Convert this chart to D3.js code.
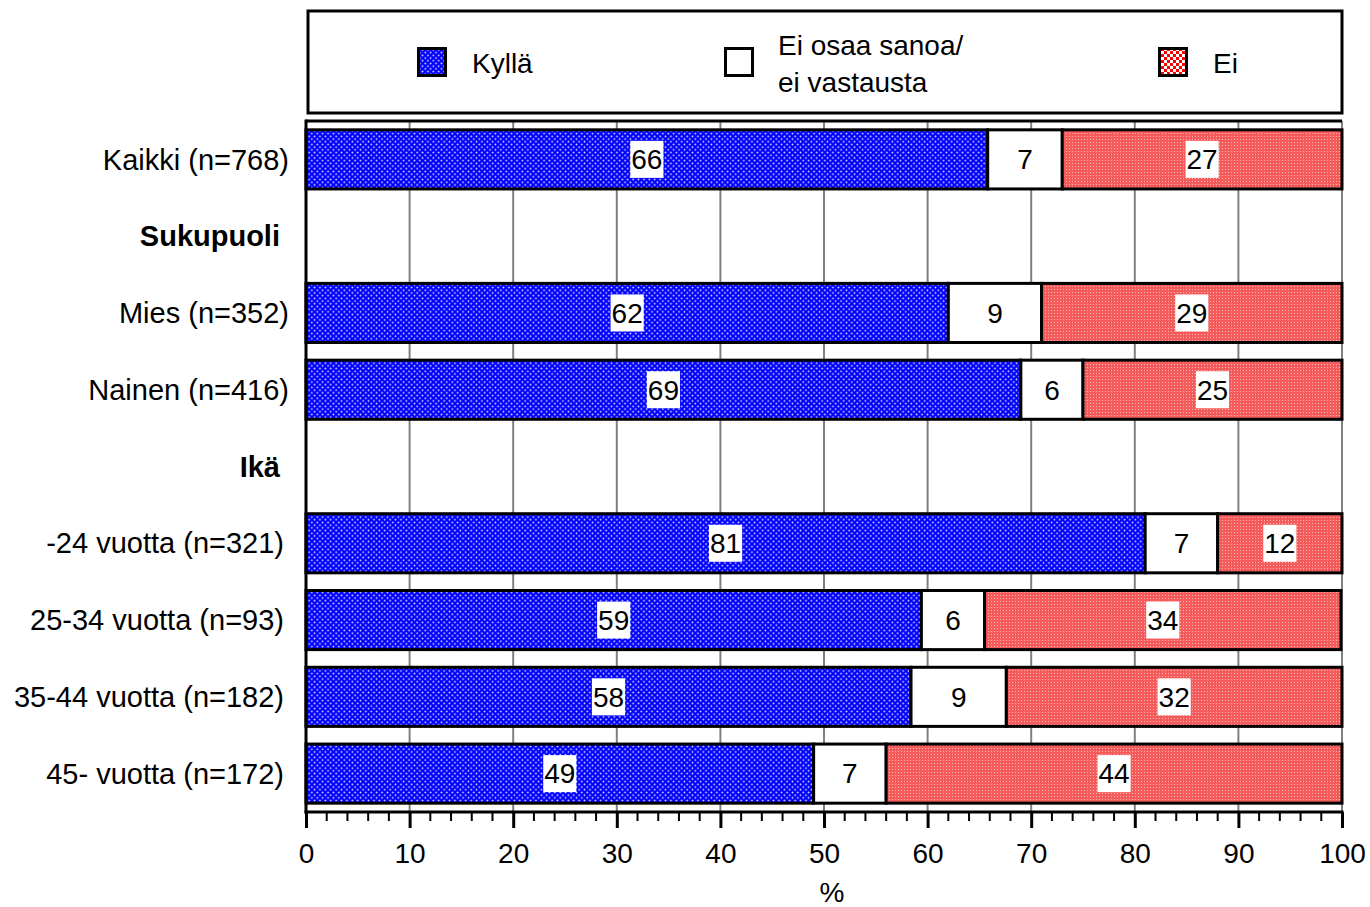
<!DOCTYPE html>
<html>
<head>
<meta charset="utf-8">
<script src="https://cdn.jsdelivr.net/npm/d3@7"></script>
<style>
  html, body { margin: 0; padding: 0; background: #fff; }
  svg { display: block; font-family: "Liberation Sans", Arial, Helvetica, sans-serif; }
</style>
</head>
<body>
<svg id="chart" width="1370" height="907"></svg>
<script>
// ---- data ----
const categories = ["Kaikki (n=768)", "Sukupuoli", "Mies (n=352)", "Nainen (n=416)", "Ikä",
  "-24 vuotta (n=321)", "25-34 vuotta (n=93)", "35-44 vuotta (n=182)", "45- vuotta (n=172)"];
const headers = ["Sukupuoli", "Ikä"];
const kylla = [65.8, null, 62.0, 69.0, null, 81.0, 59.4, 58.4, 49.0];
const eos   = [7.2,  null, 9.0,  6.0,  null, 7.0,  6.1,  9.2,  7.0];
const ei    = [27.0, null, 29.0, 25.0, null, 12.0, 34.4, 32.4, 44.0];
const seriesNames = ["Kyllä", "Ei osaa sanoa/\nei vastausta", "Ei"];
const xTicks = [0, 10, 20, 30, 40, 50, 60, 70, 80, 90, 100];
const axisTitle = "%";

// ---- setup ----
const svg = d3.select("#chart");
const defs = svg.append("defs");

// blue dotted pattern
const pb = defs.append("pattern").attr("id", "pBlue").attr("patternUnits", "userSpaceOnUse")
  .attr("width", 5.4).attr("height", 5.4);
pb.append("rect").attr("width", 5.4).attr("height", 5.4).attr("fill", "#0000ff");
pb.append("circle").attr("cx", 1.35).attr("cy", 1.35).attr("r", 0.9).attr("fill", "#e6e6ff");
pb.append("circle").attr("cx", 4.05).attr("cy", 4.05).attr("r", 0.9).attr("fill", "#e6e6ff");

// red fine dotted pattern (low contrast so it stays salmon-red)
const pr = defs.append("pattern").attr("id", "pRed").attr("patternUnits", "userSpaceOnUse")
  .attr("width", 3).attr("height", 3);
pr.append("rect").attr("width", 3).attr("height", 3).attr("fill", "#f45c5c");
pr.append("rect").attr("x", 1).attr("y", 1).attr("width", 1).attr("height", 1)
  .attr("fill", "#ffb4b4").attr("shape-rendering", "crispEdges");

// legend red (coarser checker)
const pr2 = defs.append("pattern").attr("id", "pRed2").attr("patternUnits", "userSpaceOnUse")
  .attr("width", 6).attr("height", 6);
pr2.append("rect").attr("width", 6).attr("height", 6).attr("fill", "#ff0000");
pr2.append("rect").attr("width", 3).attr("height", 3).attr("fill", "#ffffff");
pr2.append("rect").attr("x", 3).attr("y", 3).attr("width", 3).attr("height", 3).attr("fill", "#ffffff");

const fills = ["url(#pBlue)", "#ffffff", "url(#pRed)"];
const legendFills = ["url(#pBlue)", "#ffffff", "url(#pRed2)"];

const x = d3.scaleLinear().domain([0, 100]).range([306, 1342]);
const y = d3.scaleBand().domain(categories).range([121, 812]).paddingInner(0.23).paddingOuter(0.115);

const FS = 28;
const LFS = 29;

// grid lines
svg.append("g").selectAll("line").data(xTicks.filter(d => d > 0)).join("line")
  .attr("x1", d => x(d)).attr("x2", d => x(d)).attr("y1", 121).attr("y2", 812)
  .attr("stroke", "#808080").attr("stroke-width", 2);

// bars
const rows = categories.map((c, i) => ({ c, vals: [kylla[i], eos[i], ei[i]] }))
  .filter(r => r.vals[0] != null);
const segs = [];
rows.forEach(r => {
  let acc = 0;
  r.vals.forEach((v, k) => { segs.push({ c: r.c, k, x0: acc, x1: acc + v, v }); acc += v; });
});
svg.append("g").selectAll("rect").data(segs).join("rect")
  .attr("x", d => x(d.x0)).attr("width", d => x(d.x1) - x(d.x0))
  .attr("y", d => y(d.c)).attr("height", y.bandwidth())
  .attr("fill", d => fills[d.k]).attr("stroke", "#000").attr("stroke-width", 3);

// value labels
const lg = svg.append("g").attr("font-size", FS).attr("fill", "#000");
segs.forEach(d => {
  const cx = (x(d.x0) + x(d.x1)) / 2;
  const cy = y(d.c) + y.bandwidth() / 2;
  const t = lg.append("text").attr("x", cx).attr("y", cy + FS * 0.35)
    .attr("text-anchor", "middle").text(Math.round(d.v));
  const w = t.node().getComputedTextLength();
  lg.insert("rect", () => t.node()).attr("x", cx - w / 2 - 1).attr("y", cy - 18.5)
    .attr("width", w + 2).attr("height", 37).attr("fill", "#fff");
});

// plot frame (top + left)
svg.append("line").attr("x1", 306).attr("x2", 1342).attr("y1", 121).attr("y2", 121)
  .attr("stroke", "#000").attr("stroke-width", 3);
svg.append("line").attr("x1", 306).attr("x2", 306).attr("y1", 119.5).attr("y2", 813.5)
  .attr("stroke", "#000").attr("stroke-width", 3);

// x axis
const ax = svg.append("g").attr("transform", "translate(0,812)")
  .call(d3.axisBottom(x).tickValues(xTicks).tickSize(16).tickFormat(d3.format("d")));
ax.select(".domain").attr("stroke", "#000").attr("stroke-width", 3).attr("d", "M304.5,0H1343.5");
ax.selectAll(".tick line").attr("stroke", "#000").attr("stroke-width", 3);
ax.selectAll(".tick text").attr("font-size", FS).attr("font-family", "Liberation Sans, Arial, sans-serif")
  .attr("fill", "#000").attr("dy", null).attr("y", 51);
// minor ticks
const minor = d3.range(2, 100, 2).filter(d => d % 10 !== 0);
svg.append("g").selectAll("line").data(minor).join("line")
  .attr("x1", d => x(d)).attr("x2", d => x(d)).attr("y1", 812).attr("y2", 821)
  .attr("stroke", "#000").attr("stroke-width", 2);

svg.append("text").attr("x", x(50) + 8).attr("y", 902).attr("text-anchor", "middle")
  .attr("font-size", FS).text(axisTitle);

// category labels
const labelEnd = (d, i) => headers.includes(d) ? 280 : (i >= 5 ? 284 : 289);
svg.append("g").selectAll("text").data(categories).join("text")
  .attr("x", (d, i) => labelEnd(d, i))
  .attr("y", d => y(d) + y.bandwidth() / 2 + LFS * 0.35)
  .attr("text-anchor", "end").attr("font-size", LFS)
  .attr("font-weight", d => headers.includes(d) ? "bold" : "normal")
  .text(d => d);

// legend
svg.append("rect").attr("x", 308).attr("y", 11).attr("width", 1034).attr("height", 102)
  .attr("fill", "#fff").attr("stroke", "#000").attr("stroke-width", 3);
const legX = [417, 724, 1158];
const legTX = [472, 778, 1213];
seriesNames.forEach((n, i) => {
  svg.append("rect").attr("x", legX[i] + 1.5).attr("y", 48.5).attr("width", 27).attr("height", 27)
    .attr("fill", legendFills[i]).attr("stroke", "#000").attr("stroke-width", 3);
  const lines = n.split("\n");
  const t = svg.append("text").attr("x", legTX[i]).attr("font-size", FS);
  if (lines.length === 1) {
    t.attr("y", 73).text(lines[0]);
  } else {
    lines.forEach((l, j) => t.append("tspan").attr("x", legTX[i]).attr("y", 55 + j * 37).text(l));
  }
});
</script>
</body>
</html>
